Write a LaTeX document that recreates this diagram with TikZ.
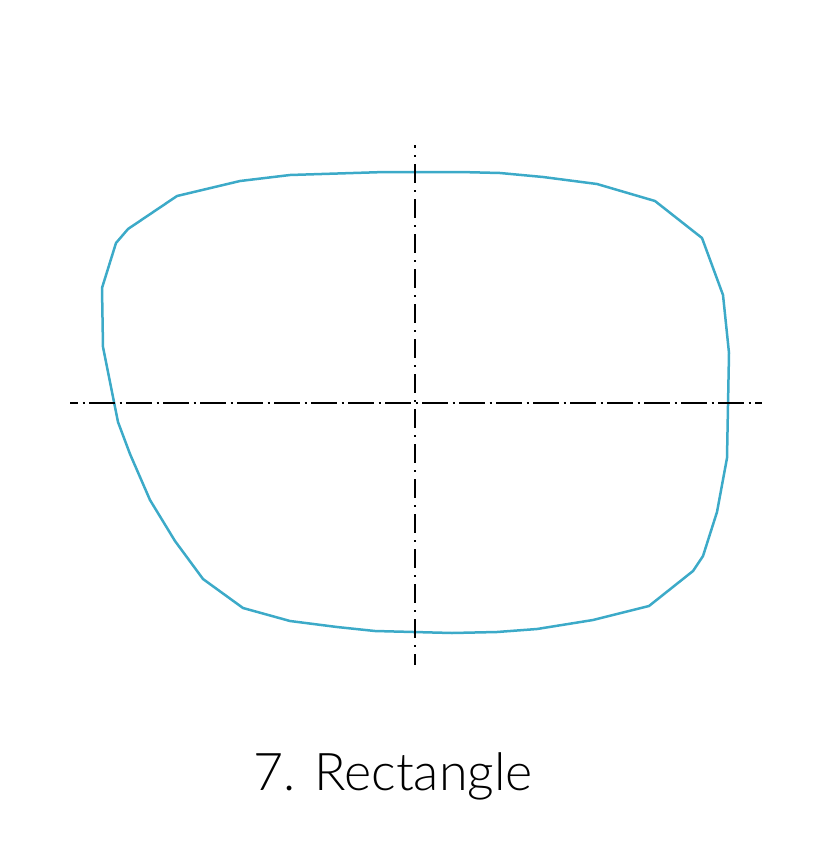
\documentclass[tikz,border=0pt]{standalone}
\usepackage{fontspec}
\newfontfamily\labelfont{Lato Light}
\usetikzlibrary{calc}
\definecolor{lensblue}{RGB}{60,170,200}
\tikzset{
  lens/.style={draw=lensblue,line width=2.5pt,line join=round},
  axisline/.style={draw=black,line width=2.2pt},
  hdash/.style={dash pattern=on 26pt off 4.5pt on 2pt off 4.5pt,dash phase=18pt},
  vdash/.style={dash pattern=on 19pt off 7pt on 2pt off 7pt,dash phase=16pt}
}

\begin{document}
\begin{tikzpicture}[x=1pt,y=-1pt]
  \useasboundingbox (0,0) rectangle (822,854);
  % Coordinates
  \coordinate (T) at (415,145);
  \coordinate (B) at (415,665);
  \coordinate (L) at (70,403);
  \coordinate (R) at (762,403);
  % Lens outline
  \draw[lens] (385,172) -- (460,172) -- (500,173) -- (543,177) -- (597,184)
    -- (655,201) -- (702,238) -- (723,295) -- (729,353) -- (727,458)
    -- (717,512) -- (703,556) -- (693,571) -- (649,606) -- (593,620)
    -- (537,629) -- (497,632) -- (452,633) -- (375,631) -- (337,627)
    -- (290,621) -- (243,608) -- (203,579) -- (175,541) -- (150,500)
    -- (130,454) -- (118,422) -- (103,347) -- (102,288) -- (116,243)
    -- (128,229) -- (177,196) -- (240,181) -- (290,175) -- cycle;
  % Centre lines
  \draw[axisline,vdash] (T) -- (B);
  \draw[axisline,hdash] (L) -- (R);
  % Caption
  \node[anchor=base,inner sep=0pt] (title) at (393,790)
    {\labelfont\fontsize{52}{60}\selectfont 7. Rectangle};
\end{tikzpicture}
\end{document}
